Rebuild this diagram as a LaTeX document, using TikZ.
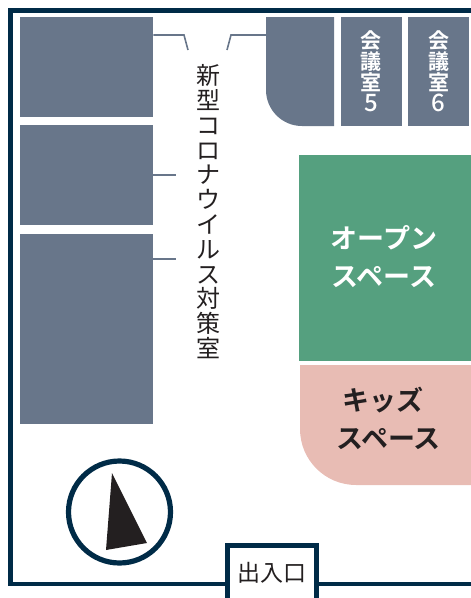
\documentclass[tikz,border=0pt]{standalone}
\usepackage{fontspec}
\setmainfont{Noto Sans CJK JP}
\newfontfamily\jpbold{Noto Sans CJK JP Bold}
\newfontfamily\jpmed{Noto Sans CJK JP Medium}
\definecolor{slate}{HTML}{68768A}
\definecolor{navy}{HTML}{002B47}
\definecolor{openg}{HTML}{55A07F}
\definecolor{kids}{HTML}{E8BCB4}
\definecolor{ink}{HTML}{231F20}
\tikzset{
  x=1pt,y=-1pt,
  room/.style={fill=slate,draw=none,inner sep=0pt,anchor=north west},
  wall/.style={draw=navy,line width=4.6pt},
  lead/.style={draw=slate,line width=1.6pt},
  vlabel/.style={align=center,inner sep=0pt,text=ink,font=\fontsize{24}{24.8}\selectfont},
  mlabel/.style={align=center,inner sep=0pt,text=white,font=\jpbold\fontsize{21}{21}\selectfont},
  blabel/.style={inner sep=0pt,font=\jpbold\fontsize{27}{30}\selectfont},
}
\begin{document}
\begin{tikzpicture}
\useasboundingbox (0,0) rectangle (471,598);
% outer wall
\coordinate (wallR) at (471,10.3);
\coordinate (wallTL) at (10.5,10.3);
\coordinate (wallBL) at (10.5,584);
\coordinate (wallBR) at (471,584);
\draw[wall,line join=miter] (wallR) -- (wallTL) -- (wallBL) -- (wallBR);
% entrance
\node[draw=navy,line width=5pt,fill=white,minimum width=89pt,minimum height=62pt,inner sep=0pt,anchor=north west] (door) at (225,543) {};
\node[inner sep=0pt,text=ink,font=\fontsize{23}{24}\selectfont] (doorlabel) at (272,573) {出入口};
% left rooms
\node[room,minimum width=133pt,minimum height=100pt] (r1) at (20,17) {};
\node[room,minimum width=133pt,minimum height=100pt] (r2) at (20,125) {};
\node[room,minimum width=133pt,minimum height=190pt] (r3) at (20,234) {};
% top right rooms
\fill[slate] (266,17) -- (334,17) -- (334,126) -- (302,126) arc[start angle=90,end angle=180,radius=36] -- cycle;
\coordinate (r4w) at (266,35);
\node[room,minimum width=61pt,minimum height=109pt] (r5) at (341,17) {};
\node[room,minimum width=61pt,minimum height=109pt] (r6) at (408,17) {};
\node[mlabel] (l5) at (371,71) {会\\議\\室\\{\jpmed\fontsize{24}{21}\selectfont 5}};
\node[mlabel] (l6) at (438.5,71) {会\\議\\室\\{\jpmed\fontsize{24}{21}\selectfont 6}};
% open space
\node[fill=openg,inner sep=0pt,anchor=north west,minimum width=172pt,minimum height=206pt] (open) at (299,155) {};
\node[blabel,text=white] (o1) at (384,238) {オープン};
\node[blabel,text=white] (o2) at (384,277) {スペース};
% kids space
\fill[kids] (300,365) -- (471,365) -- (471,485) -- (356,485) arc[start angle=90,end angle=180,radius=56] -- cycle;
\node[blabel,text=ink] (k1) at (383,400) {キッズ};
\node[blabel,text=ink] (k2) at (388.5,439) {スペース};
% central label and its leaders
\node[vlabel,anchor=north] (corona) at (208.5,64.5) {新\\型\\コ\\ロ\\ナ\\ウ\\イ\\ル\\ス\\対\\策\\室};
\coordinate (a1) at (184,35);
\coordinate (a2) at (188,50);
\coordinate (b1) at (231,35);
\coordinate (b2) at (227,50);
\coordinate (c2) at (176,175);
\coordinate (c3) at (176,259);
\draw[lead] (r1.east |- a1) -- (a1) -- (a2);
\draw[lead] (r4w) -- (b1) -- (b2);
\draw[lead] (r2.east |- c2) -- (c2);
\draw[lead] (r3.east |- c3) -- (c3);
% compass
\node[circle,draw=navy,line width=5.2pt,fill=white,minimum size=102pt,inner sep=0pt] (compass) at (119.5,512) {};
\fill[ink] (112,473) -- (147,543) -- (106,550) -- cycle;
\end{tikzpicture}
\end{document}
